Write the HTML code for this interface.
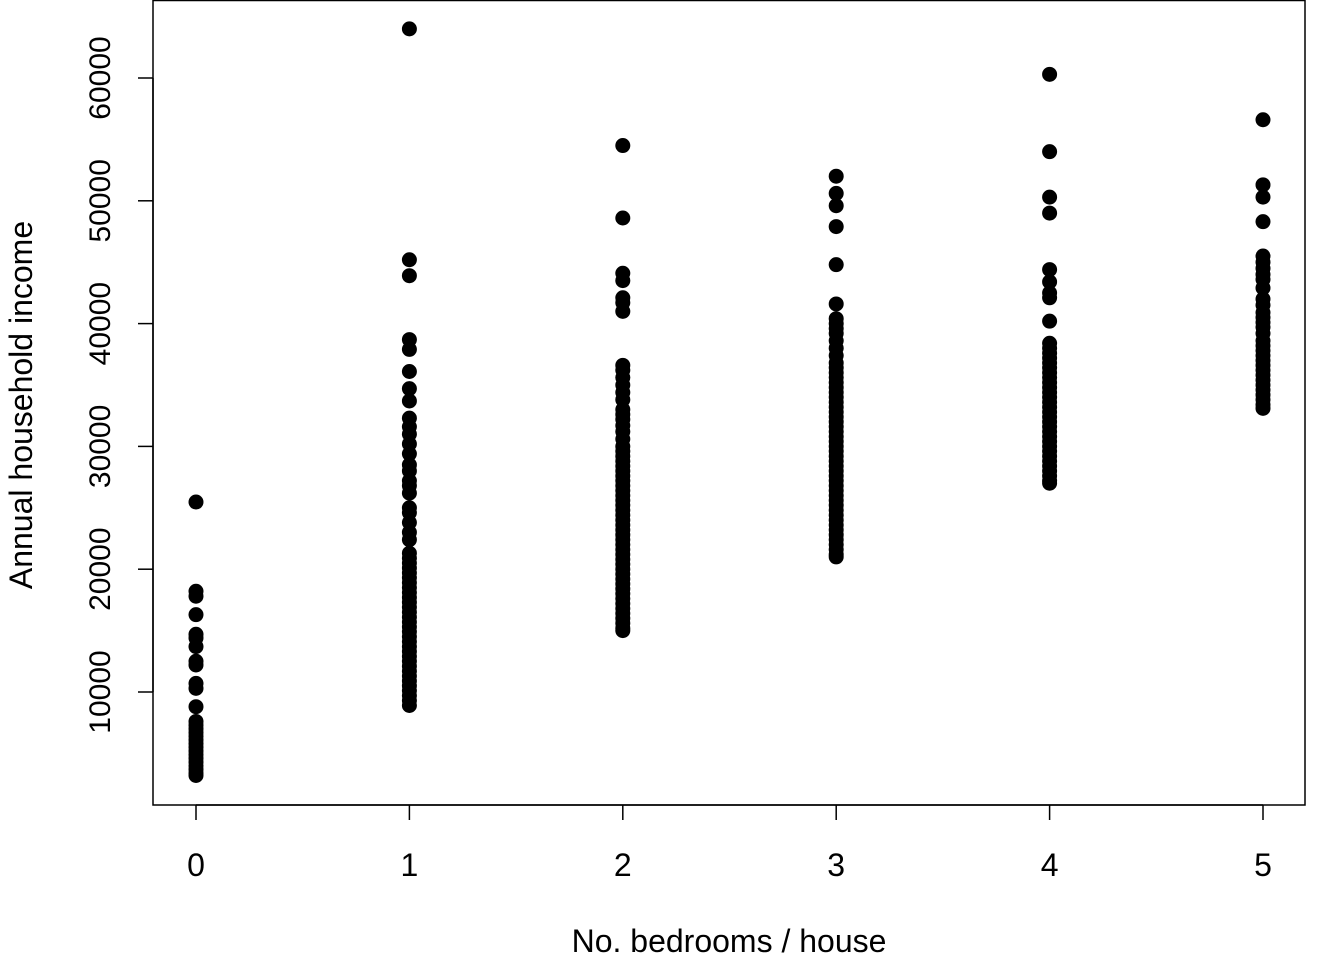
<!DOCTYPE html>
<html><head><meta charset="utf-8"><style>
html,body{margin:0;padding:0;background:#fff;}
svg{display:block;font-family:"Liberation Sans",Arial,sans-serif;}
</style></head><body>
<svg id="chart" width="1344" height="960" viewBox="0 0 1344 960" xmlns="http://www.w3.org/2000/svg">
<rect x="153" y="0.5" width="1152" height="804.5" fill="none" stroke="#000" stroke-width="1.5"/>
<g id="xaxis"></g>
<g id="yaxis"></g>
<g id="points"></g>
<text x="729" y="952" font-size="32" text-anchor="middle">No. bedrooms / house</text>
<text transform="translate(32,405) rotate(-90)" font-size="32" text-anchor="middle">Annual household income</text>
</svg>
<script>
const xTicks = [0,1,2,3,4,5];
const yTicks = [10000,20000,30000,40000,50000,60000];
const bedrooms0 = [25470,18200,17800,16300,14700,14400,13700,12500,12200,10700,10300,8800,7600,7300,7000,6700,6400,6100,5800,5500,5200,4900,4600,4300,4000,3700,3400,3200];
const bedrooms1 = [64000,45200,43900,38700,37900,36100,34700,33700,32300,31600,31000,30200,29400,28500,28000,27200,26800,26200,25000,24600,23800,23000,22400,21300,20900,20500,20100,19700,19300,18900,18500,18100,17700,17300,16900,16500,16100,15700,15300,14900,14500,14100,13700,13300,12900,12500,12100,11700,11300,10900,10500,10100,9700,9300,8900];
const bedrooms2 = [54500,48600,44100,43500,42100,41700,41000,36600,36200,35600,35000,34400,33800,33000,32600,32200,31700,31200,30600,30000,29600,29200,28800,28400,28000,27600,27200,26800,26400,26000,25600,25200,24800,24400,24000,23600,23200,22800,22400,22000,21600,21200,20800,20400,20000,19600,19200,18800,18400,18000,17600,17200,16800,16400,16000,15600,15200,15000];
const bedrooms3 = [52000,50600,49600,47900,44800,41600,40400,40000,39600,39200,38600,38000,37400,36800,36400,36000,35600,35200,34800,34400,34000,33600,33200,32800,32400,32000,31600,31200,30800,30400,30000,29600,29200,28800,28400,28000,27600,27200,26800,26400,26000,25600,25200,24800,24400,24000,23600,23200,22800,22400,22000,21600,21200,21000];
const bedrooms4 = [60300,54000,50300,49000,44400,43400,42500,42100,40200,38400,38000,37600,37200,36800,36400,36000,35600,35200,34800,34400,34000,33600,33200,32800,32400,32000,31600,31200,30800,30400,30000,29600,29200,28800,28400,28000,27600,27200,27000];
const bedrooms5 = [56600,51300,50300,48300,45500,45000,44500,44000,43600,42900,42000,41500,40900,40500,40100,39700,39200,38600,38200,37800,37400,37000,36600,36200,35800,35400,35000,34600,34200,33800,33400,33100];
const series = [bedrooms0,bedrooms1,bedrooms2,bedrooms3,bedrooms4,bedrooms5];

const NS = "http://www.w3.org/2000/svg";
function sx(v){ return 196 + v*(1263-196)/5; }
function sy(v){ return 692 - (v-10000)*(692-78)/50000; }
function mk(tag, attrs, parent){
  const el = document.createElementNS(NS, tag);
  for (const k in attrs) el.setAttribute(k, attrs[k]);
  parent.appendChild(el);
  return el;
}
const xg = document.getElementById('xaxis');
mk('line',{x1:sx(xTicks[0]),x2:sx(xTicks[xTicks.length-1]),y1:805,y2:805,stroke:'#000','stroke-width':1.5},xg);
xTicks.forEach(t=>{
  const l = mk('line',{x1:sx(t),x2:sx(t),y1:805,y2:820,stroke:'#000','stroke-width':1.5},xg);
  
  
  const tx = mk('text',{x:sx(t),y:876,'font-size':32,'text-anchor':'middle'},xg);
  tx.textContent = t;
  
  
});
const yg = document.getElementById('yaxis');
mk('line',{x1:153,x2:153,y1:sy(yTicks[0]),y2:sy(yTicks[yTicks.length-1]),stroke:'#000','stroke-width':1.5},yg);
yTicks.forEach(t=>{
  const y = sy(t);
  const l = mk('line',{x1:138,x2:153,y1:y,y2:y,stroke:'#000','stroke-width':1.5},yg);
  
  
  const tx = mk('text',{transform:`translate(110,${y}) rotate(-90)`,'font-size':30,'text-anchor':'middle'},yg);
  tx.textContent = t;
  
  
});
const pg = document.getElementById('points');
series.forEach((vals,i)=>{
  vals.forEach(v=>{
    const c = mk('circle',{cx:sx(xTicks[i]),cy:sy(v),r:7.5,fill:'#000'},pg);
    
    
  });
});
</script>
</body></html>
